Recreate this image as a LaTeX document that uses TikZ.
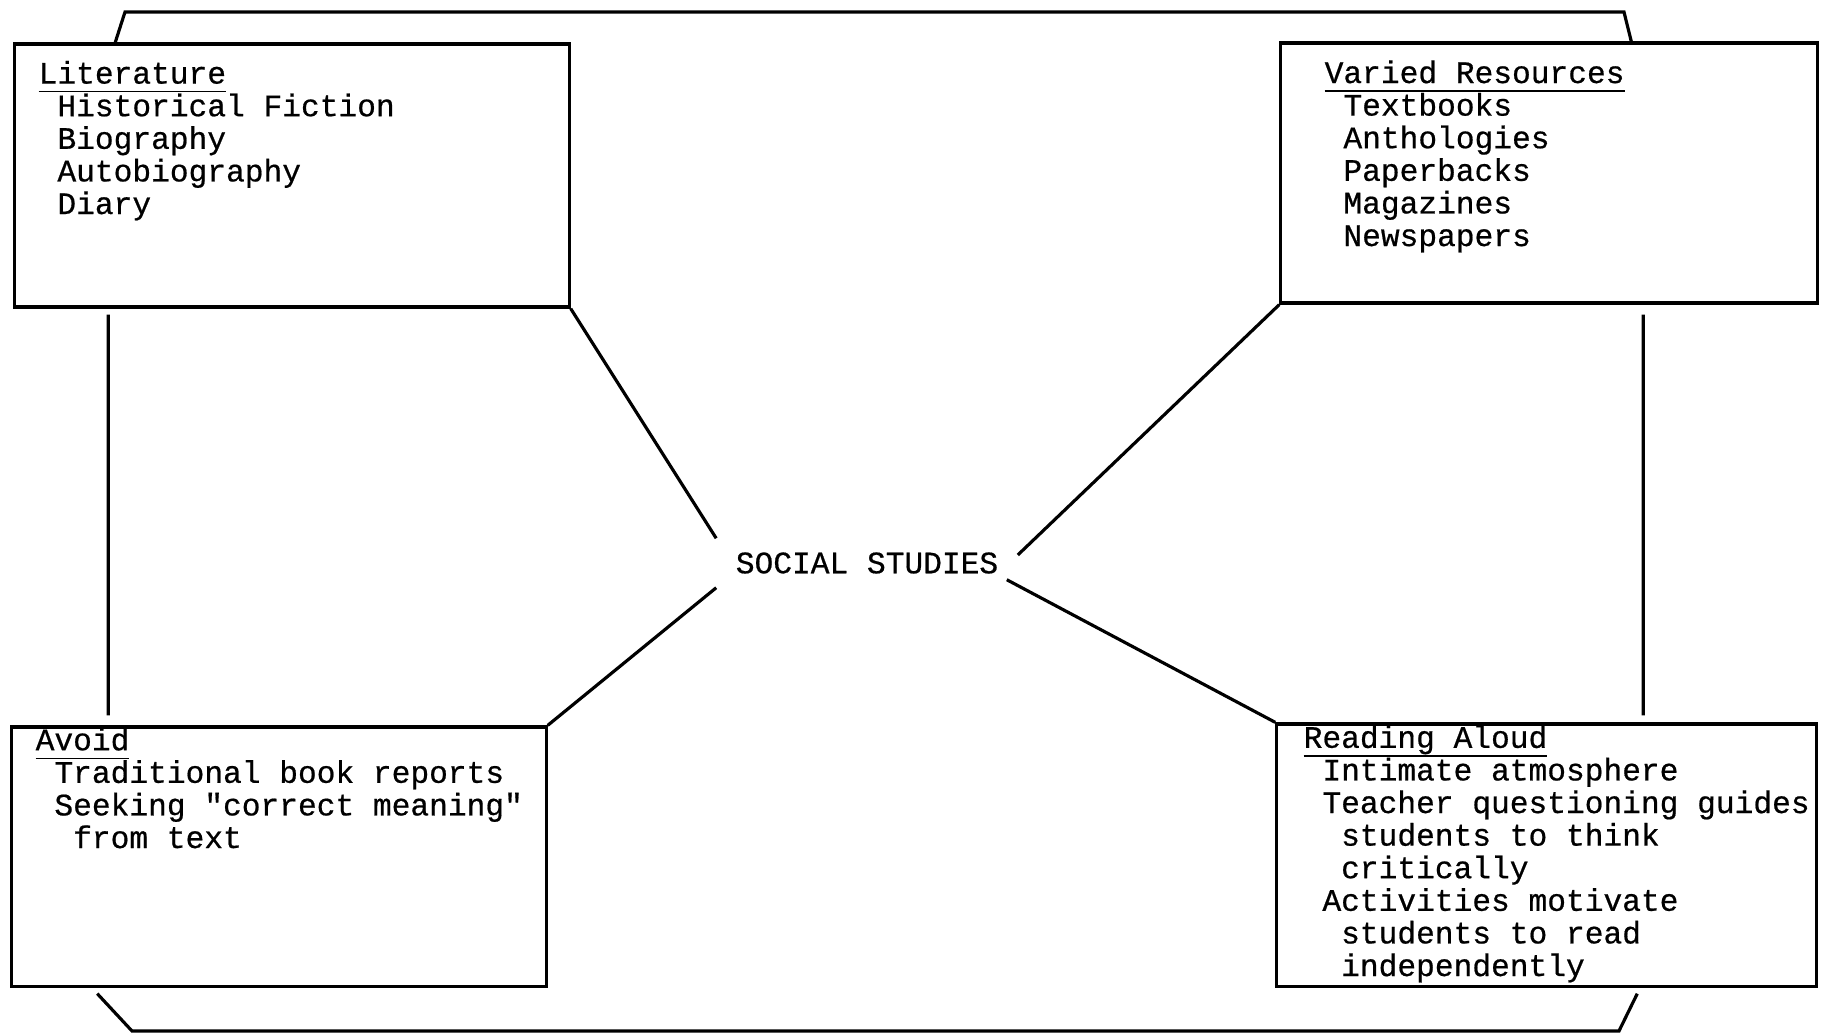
\documentclass[tikz,border=0pt]{standalone}
\usepackage{fontspec}
\setmonofont{Liberation Mono}[FakeBold=0.6]
\usetikzlibrary{calc}

\newcommand{\boxtitle}[1]{\smash{\underline{\raisebox{0pt}[\height][0pt]{#1}\rule[-0.9pt]{0pt}{1pt}}}}

\begin{document}
\begin{tikzpicture}[
  x=0.01cm, y=-0.01cm,
  panel/.style={draw,line width=0.9pt,inner sep=0pt},
  list/.style={font=\fontsize{8.88pt}{9.27pt}\selectfont\ttfamily,align=left,
               inner sep=0pt,anchor=base west},
  link/.style={line width=0.9pt},
]
  \useasboundingbox (0,0) rectangle (1829,1033);

  % Corner panels
  \node[panel,minimum width=5.54cm,minimum height=2.63cm] (lit) at (292,175.5) {};
  \node[panel,minimum width=5.36cm,minimum height=2.60cm] (var) at (1549,173) {};
  \node[panel,minimum width=5.34cm,minimum height=2.59cm] (avoid) at (279,856.5) {};
  \node[panel,minimum width=5.39cm,minimum height=2.62cm] (read) at (1546.5,855) {};

  % Panel texts (placed by the baseline of their last line)
  \node[list] (littxt) at (38,214) {\boxtitle{Literature}\\
    \phantom{x}Historical Fiction\\
    \phantom{x}Biography\\
    \phantom{x}Autobiography\\
    \phantom{x}Diary};
  \node[list] (vartxt) at (1324,246) {\boxtitle{Varied Resources}\\
    \phantom{x}Textbooks\\
    \phantom{x}Anthologies\\
    \phantom{x}Paperbacks\\
    \phantom{x}Magazines\\
    \phantom{x}Newspapers};
  \node[list] (avoidtxt) at (35,848) {\boxtitle{Avoid}\\
    \phantom{x}Traditional book reports\\
    \phantom{x}Seeking "correct meaning"\\
    \phantom{xx}from text};
  \node[list] (readtxt) at (1303,976) {\boxtitle{Reading Aloud}\\
    \phantom{x}Intimate atmosphere\\
    \phantom{x}Teacher questioning guides\\
    \phantom{xx}students to think\\
    \phantom{xx}critically\\
    \phantom{x}Activities motivate\\
    \phantom{xx}students to read\\
    \phantom{xx}independently};

  % Hub
  \node[font=\fontsize{8.88pt}{9.27pt}\selectfont\ttfamily,inner sep=0pt,
        minimum width=3.0cm,minimum height=0.48cm] (soc) at (867,563) {SOCIAL STUDIES};

  % Spokes
  \draw[link] (lit.south east) -- (soc.north west);
  \draw[link] (var.south west) -- ($(soc.east)+(0,-8)$);
  \draw[link] (avoid.north east) -- (soc.south west);
  \draw[link] (read.north west) -- ($(soc.south east)+(-11,-8)$);

  % Frame
  \draw[link] ($(lit.north west)+(102,0)$) -- (125,12) -- (1624,12)
    -- ($(var.north west)+(352,0)$);
  \draw[link] ($(avoid.south west)+(87,6)$) -- (132,1031) -- (1619,1031)
    -- ($(read.south west)+(362,6)$);
  \draw[link] ($(lit.south west)+(95,6)$) -- ($(avoid.north west)+(98,-10)$);
  \draw[link] ($(var.south west)+(364,10)$) -- ($(read.north west)+(368,-7)$);
\end{tikzpicture}
\end{document}
